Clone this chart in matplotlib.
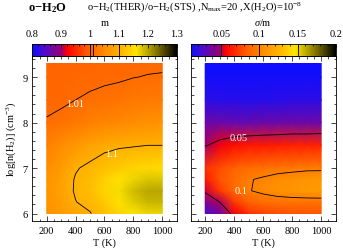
import numpy as np
import matplotlib
matplotlib.use('Agg')
import matplotlib.pyplot as plt
from matplotlib.colors import LinearSegmentedColormap
from matplotlib.ticker import MultipleLocator

plt.rcParams['font.family'] = 'Liberation Serif'
plt.rcParams['mathtext.fontset'] = 'custom'
plt.rcParams['mathtext.rm'] = 'Liberation Serif'
plt.rcParams['mathtext.it'] = 'Liberation Serif:italic'
plt.rcParams['mathtext.bf'] = 'Liberation Serif:bold'

# grid
temps = [200, 300, 400, 500, 600, 700, 800, 900, 1000]
logn = [6.0, 6.25, 6.5, 6.75, 7.0, 7.5, 8.0, 8.5, 9.0, 9.3]

# m = o-H2(THER)/o-H2(STS), rows follow logn
m_ratio = [
    [1.055, 1.070, 1.085, 1.098, 1.120, 1.140, 1.160, 1.170, 1.170],
    [1.058, 1.075, 1.099, 1.110, 1.130, 1.155, 1.175, 1.190, 1.190],
    [1.060, 1.080, 1.104, 1.115, 1.140, 1.165, 1.185, 1.200, 1.200],
    [1.058, 1.078, 1.103, 1.113, 1.135, 1.155, 1.170, 1.180, 1.180],
    [1.050, 1.070, 1.097, 1.108, 1.120, 1.130, 1.140, 1.145, 1.150],
    [1.035, 1.050, 1.065, 1.080, 1.090, 1.095, 1.097, 1.100, 1.100],
    [1.012, 1.018, 1.025, 1.035, 1.040, 1.045, 1.050, 1.055, 1.060],
    [1.004, 1.005, 1.010, 1.013, 1.0165, 1.020, 1.025, 1.028, 1.030],
    [1.002, 1.003, 1.004, 1.005, 1.006, 1.007, 1.0095, 1.011, 1.012],
    [1.001, 1.002, 1.003, 1.003, 1.004, 1.004, 1.005, 1.006, 1.006],
]

# sigma/m
sigma_m = [
    [0.025, 0.035, 0.055, 0.070, 0.075, 0.078, 0.080, 0.080, 0.080],
    [0.040, 0.050, 0.072, 0.085, 0.090, 0.092, 0.093, 0.093, 0.093],
    [0.052, 0.072, 0.088, 0.099, 0.104, 0.108, 0.110, 0.112, 0.113],
    [0.062, 0.080, 0.090, 0.099, 0.102, 0.105, 0.107, 0.109, 0.110],
    [0.070, 0.078, 0.085, 0.090, 0.093, 0.095, 0.096, 0.097, 0.097],
    [0.049, 0.055, 0.060, 0.062, 0.063, 0.064, 0.065, 0.065, 0.066],
    [0.035, 0.034, 0.033, 0.033, 0.034, 0.034, 0.035, 0.035, 0.035],
    [0.018, 0.017, 0.016, 0.016, 0.016, 0.017, 0.018, 0.018, 0.018],
    [0.012, 0.012, 0.012, 0.012, 0.012, 0.012, 0.012, 0.012, 0.012],
    [0.010, 0.010, 0.010, 0.010, 0.010, 0.010, 0.010, 0.010, 0.010],
]

m_levels = [1.0, 1.01, 1.1]
sig_levels = [0.05, 0.1, 0.15]
m_range = (0.8, 1.3)
sig_range = (0.01, 0.2)
m_ticks = [0.8, 0.9, 1.0, 1.1, 1.2, 1.3]
sig_ticks = [0.05, 0.1, 0.15, 0.2]

cmap = LinearSegmentedColormap.from_list('bryk', [
    (0.00, (0.05, 0.05, 1.00)),
    (0.08, (0.30, 0.05, 0.80)),
    (0.20, (0.60, 0.00, 0.45)),
    (0.24, (1.00, 0.00, 0.00)),
    (0.38, (1.00, 0.36, 0.00)),
    (0.50, (1.00, 0.55, 0.00)),
    (0.62, (1.00, 0.72, 0.00)),
    (0.72, (1.00, 0.90, 0.00)),
    (0.85, (0.55, 0.50, 0.00)),
    (1.00, (0.00, 0.00, 0.00)),
])

W, H = 343, 251
fig = plt.figure(figsize=(W / 100, H / 100), dpi=100)


def box(x0, y0, x1, y1):
    # pixel box (top-left origin) -> figure fraction
    return [x0 / W, 1 - y1 / H, (x1 - x0) / W, (y1 - y0) / H]


TT, NN = np.meshgrid(temps, logn)
fs = 7.5

panels = [
    (np.array(m_ratio), m_range, m_levels, m_ticks, 0.02, 'm', 32.3, 176.7,
     [('1.01', 400, 8.42), ('1.1', 650, 7.33)]),
    (np.array(sigma_m), sig_range, sig_levels, sig_ticks, 0.01, r'$\sigma$/m', 190.7, 335.7,
     [('0.05', 430, 7.67), ('0.1', 447, 6.5)]),
]

for i, (Z, zr, levels, cticks, cminor, clabel, x0, x1, labels) in enumerate(panels):
    ax = fig.add_axes(box(x0, 57, x1, 222))
    mesh = ax.pcolormesh(TT, NN, Z, cmap=cmap, vmin=zr[0], vmax=zr[1], shading='gouraud')
    ax.contour(TT, NN, Z, levels=levels, colors='k', linewidths=0.6)
    for txt, tx, ty in labels:
        ax.text(tx, ty, txt, color='white', fontsize=fs, ha='center', va='center')
    ax.set_xlim(100, 1100)
    ax.set_ylim(5.835, 9.465)
    ax.xaxis.set_major_locator(MultipleLocator(200))
    ax.xaxis.set_minor_locator(MultipleLocator(50))
    ax.yaxis.set_major_locator(MultipleLocator(1))
    ax.yaxis.set_minor_locator(MultipleLocator(0.2))
    ax.tick_params(which='both', direction='in', top=True, right=True, labelsize=fs, width=0.5)
    ax.tick_params(which='major', length=3.5, pad=3.5)
    ax.tick_params(which='minor', length=1.8)
    for sp in ax.spines.values():
        sp.set_linewidth(0.6)
    ax.set_xlabel('T (K)', fontsize=fs, labelpad=1.5)
    if i == 0:
        ax.set_ylabel(r'log[n(H$_2$)] (cm$^{-3}$)', fontsize=fs, labelpad=3)
    else:
        ax.set_yticklabels([])

    cax = fig.add_axes(box(x0, 45, x1, 57))
    cb = fig.colorbar(mesh, cax=cax, orientation='horizontal')
    cb.outline.set_linewidth(0.6)
    for lev in levels:
        cax.axvline(lev, color='k', lw=0.6)
    cax.xaxis.set_ticks_position('top')
    cax.xaxis.set_label_position('top')
    cax.set_xticks(cticks)
    cax.set_xticklabels(['%g' % t for t in cticks])
    cax.xaxis.set_minor_locator(MultipleLocator(cminor))
    cax.tick_params(which='both', direction='in', labelsize=fs, width=0.5, pad=4)
    cax.tick_params(which='major', length=3)
    cax.tick_params(which='minor', length=1.5)
    cb.set_label(clabel, fontsize=fs, labelpad=3)

fig.text(28 / W, 1 - 8 / H, r'$\mathbf{o{-}H_2O}$', fontsize=9, va='center', ha='left')
fig.text(87 / W, 1 - 7 / H,
         r'o$-$H$_2$(THER)/o$-$H$_2$(STS) ,N$_{\rm max}$=20 ,X(H$_2$O)=10$^{-8}$',
         fontsize=7.6, va='center', ha='left')

fig.savefig('out.png', dpi=100)
